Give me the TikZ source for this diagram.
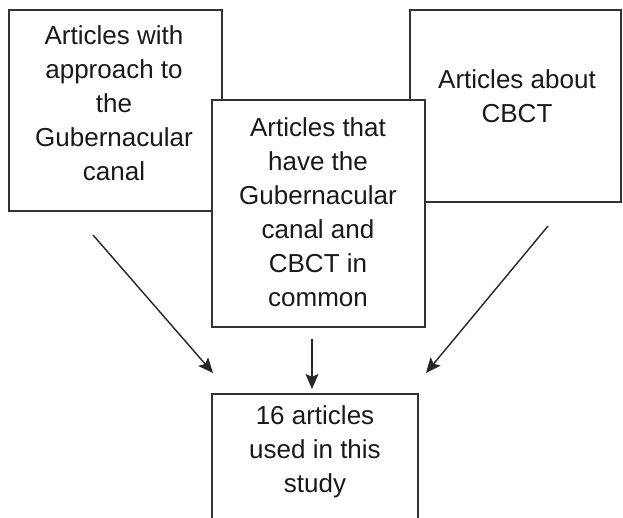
\documentclass[tikz,border=0pt]{standalone}
\usepackage{fontspec}
\setmainfont{Liberation Sans}
\usetikzlibrary{arrows.meta}
\begin{document}
\begin{tikzpicture}[x=1pt,y=-1pt,
  box/.style={draw=black!80, line width=1.6pt, fill=white, rectangle, inner sep=0pt},
  lbl/.style={align=center, font=\fontsize{26}{34}\selectfont, inner sep=0pt, text=black!90},
  conn/.style={draw=black!85, line width=1.4pt, -{Stealth[length=15pt,width=13pt,inset=3pt]}}]
\useasboundingbox (0,0) rectangle (623,517);
\clip (0,0) rectangle (623,517);
\fill[white] (0,0) rectangle (623,517);
% boxes
\node[box, minimum width=213pt, minimum height=201pt] (leftbox) at (115.5,110.5) {};
\node[box, minimum width=211pt, minimum height=192pt] (rightbox) at (515.5,106) {};
\node[box, minimum width=213pt, minimum height=227pt] (midbox) at (318.5,213.5) {};
\node[box, minimum width=206pt, minimum height=150pt] (botbox) at (315,469) {};
% texts
\node[lbl] (lefttext) at (114,103) {Articles with\\approach to\\the\\Gubernacular\\canal};
\node[lbl] (righttext) at (517,96) {Articles about\\CBCT};
\node[lbl] (midtext) at (318,212) {Articles that\\have the\\Gubernacular\\canal and\\CBCT in\\common};
\node[lbl] (bottext) at (315,452) {16 articles\\used in this\\study};
% connector ends
\coordinate (la) at (93,235);
\coordinate (lb) at (213,373);
\coordinate (ma) at (312,339);
\coordinate (mb) at (312,389);
\coordinate (ra) at (548,226);
\coordinate (rb) at (426,373);
\draw[conn] (la) -- (lb);
\draw[conn] (ma) -- (mb);
\draw[conn] (ra) -- (rb);
\end{tikzpicture}
\end{document}
